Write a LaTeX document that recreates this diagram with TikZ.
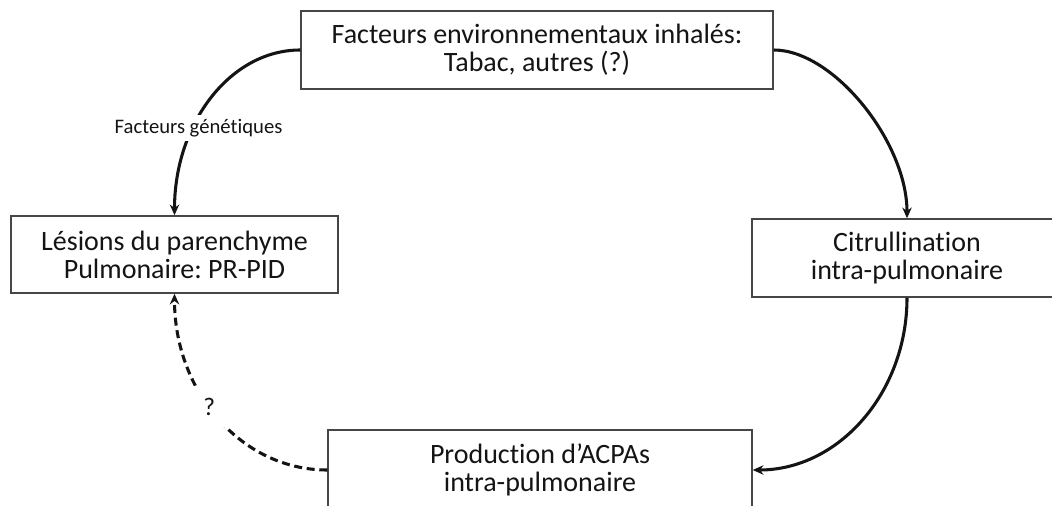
\documentclass[tikz,border=0pt]{standalone}
\usepackage{fontspec}
\setmainfont{Carlito}[Ligatures=NoCommon]
\usetikzlibrary{arrows.meta}
\definecolor{boxgray}{RGB}{70,70,70}
\definecolor{inkc}{RGB}{20,20,20}
\frenchspacing
\begin{document}
\begin{tikzpicture}[x=0.75pt,y=-0.75pt,
  box/.style={draw=boxgray, line width=1.1pt, fill=white, align=center, text=inkc,
    font=\fontsize{21}{21}\selectfont, inner sep=0pt},
  flow/.style={draw=inkc, line width=2.3pt, -{Stealth[length=8pt,width=7pt]}},
  dflow/.style={flow, dash pattern=on 6pt off 3.5pt},
  lab/.style={fill=white, text=inkc, inner sep=3pt}]
\useasboundingbox (0,0) rectangle (1052,506);
\clip (0,0) rectangle (1052,506);
\fill[white] (0,0) rectangle (1052,506);

\node[box, minimum width=354pt, minimum height=58.5pt] (env) at (537,50)
  {Facteurs environnementaux inhalés:\\Tabac, autres (?)};
\node[box, minimum width=245.25pt, minimum height=57.75pt] (les) at (174.5,254.5)
  {Lésions du parenchyme\\Pulmonaire: PR-PID};
\node[box, minimum width=232.5pt, minimum height=58.5pt] (cit) at (907,258)
  {Citrullination\\intra-pulmonaire};
\node[box, minimum width=318pt, minimum height=60pt] (prod) at (540,470)
  {Production d’ACPAs\\intra-pulmonaire};

\draw[flow] (env.west) .. controls +(-70,0) and +(0,-92) .. (les.north)
  node[lab, pos=0.65, xshift=4pt, font=\fontsize{15.5}{17}\selectfont] {Facteurs génétiques};
\draw[flow] (env.east) .. controls +(60,0) and +(0,-76) .. (cit.north);
\draw[flow] (cit.south) .. controls +(0,95) and +(86,0) .. (prod.east);
\draw[dflow] (prod.west) .. controls +(-86,0) and +(0,98) .. (les.south)
  node[lab, pos=0.56, inner sep=9pt, font=\fontsize{19}{21}\selectfont] {?};
\end{tikzpicture}
\end{document}
